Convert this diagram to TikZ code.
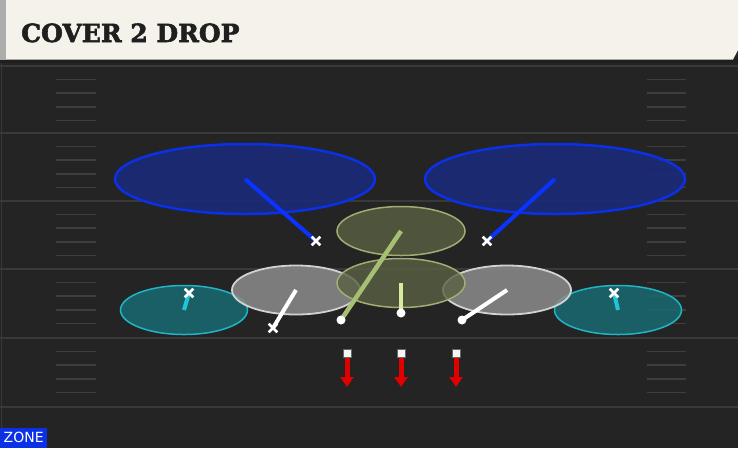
\documentclass[tikz,border=0pt]{standalone}
\usepackage{fontspec}
\usetikzlibrary{shapes.geometric,shapes.misc,arrows.meta}
\newfontfamily\titlefont{DejaVu Serif}[FakeBold=2.2]
\newfontfamily\zonefont{DejaVu Sans}
\definecolor{fieldbg}{HTML}{242424}
\definecolor{yardc}{HTML}{393939}
\definecolor{hashc}{HTML}{3E3E3E}
\definecolor{titlebg}{HTML}{F4F2EB}
\definecolor{blueb}{HTML}{0B30E6}
\definecolor{bluef}{HTML}{1B2A7A}
\definecolor{oliveb}{HTML}{9FAE72}
\definecolor{olivef}{HTML}{5A6143}
\definecolor{grayb}{HTML}{D2D2D2}
\definecolor{grayf}{HTML}{8C8C8C}
\definecolor{tealb}{HTML}{1FB5C5}
\definecolor{tealf}{HTML}{1A6A72}
\definecolor{blueline}{HTML}{0A33FF}
\definecolor{oliveline}{HTML}{A6BF72}
\definecolor{paleline}{HTML}{D6EAA0}
\definecolor{tealline}{HTML}{22C4D6}
\definecolor{redarr}{HTML}{E00000}
\definecolor{zonebox}{HTML}{0B30E6}
\tikzset{
  zone/.style={ellipse, inner sep=0pt, line width=#1},
  bluezone/.style={zone=2.5pt, draw=blueb, fill=bluef, fill opacity=0.9, minimum width=260pt, minimum height=70pt},
  olivezone/.style={zone=1.5pt, draw=oliveb, fill=olivef, fill opacity=0.8, minimum width=128pt, minimum height=49pt},
  grayzone/.style={zone=1.8pt, draw=grayb, fill=grayf, fill opacity=0.85, minimum width=128pt, minimum height=49pt},
  tealzone/.style={zone=1.5pt, draw=tealb, fill=tealf, fill opacity=0.85, minimum width=127pt, minimum height=49pt},
  route/.style={line width=4pt, line cap=butt},
  xmark/.style={cross out, draw=white, line width=2.6pt, minimum size=6pt, inner sep=0pt},
  dotmark/.style={circle, fill=white, minimum size=9pt, inner sep=0pt},
  sqmark/.style={rectangle, fill=white!92!gray, draw=black!60, line width=0.5pt, minimum size=8.5pt, inner sep=0pt},
  redarrow/.style={draw=redarr, line width=5pt, -{Triangle[width=13pt,length=10pt]}},
  yard/.style={draw=yardc, line width=1.5pt},
  hash/.style={draw=hashc, line width=1.5pt}
}
\begin{document}
\begin{tikzpicture}[x=1pt,y=-1pt]
\useasboundingbox (0,0) rectangle (738,448);
\fill[fieldbg] (0,0) rectangle (738,448);
\draw[draw=black!78!white, line width=1pt] (1,62) -- (1,448);
% yard lines and hash marks
\foreach \yy in {66,133,201,269,338,407} {\draw[yard] (0,\yy) -- (738,\yy);}
\foreach \yy in {66,133,201,269,338} {
  \foreach \k in {1,...,4} {
    \draw[hash] (56,{\yy+13.6*\k}) -- (96,{\yy+13.6*\k});
    \draw[hash] (647,{\yy+13.6*\k}) -- (686,{\yy+13.6*\k});
  }
}
% title bar
\fill[black!88] (0,59) rectangle (738,62.5);
\fill[titlebg] (0,0) -- (738,0) -- (738,50) -- (733,59.5) -- (0,59.5) -- cycle;
\fill[gray!65] (0,0) rectangle (5.5,59.5);
\node[anchor=base west, inner sep=0pt, text=black!88, font={\titlefont\bfseries\fontsize{25}{25}\selectfont}] (title) at (21,42) {COVER 2 DROP};
% zones
\node[bluezone] (zbl) at (245,179) {};
\node[bluezone] (zbr) at (555,179) {};
\node[tealzone] (ztl) at (184,310) {};
\node[tealzone] (ztr) at (618,310) {};
\node[olivezone] (zot) at (401,231) {};
\node[grayzone] (zgl) at (296,290) {};
\node[grayzone] (zgr) at (507,290) {};
\node[olivezone] (zom) at (401,283) {};
% players
\coordinate (pb1) at (316,241);
\coordinate (pb2) at (487,241);
\coordinate (pt1) at (189,293);
\coordinate (pt2) at (614,293);
\coordinate (pw1) at (273,328);
\coordinate (pw2) at (462,320);
\coordinate (po1) at (341,320);
\coordinate (po2) at (401,313);
% routes
\draw[route, blueline] (zbl.center) -- (pb1);
\draw[route, blueline] (zbr.center) -- (pb2);
\draw[route, tealline] (ztl.center) -- (pt1);
\draw[route, tealline] (ztr.center) -- (pt2);
\draw[route, white] (zgl.center) -- (pw1);
\draw[route, white] (zgr.center) -- (pw2);
\draw[route, oliveline, line width=4.5pt] (zot.center) -- (po1);
\draw[route, paleline] (zom.center) -- (po2);
% markers
\node[xmark] (mb1) at (pb1) {};
\node[xmark] (mb2) at (pb2) {};
\node[xmark] (mt1) at (pt1) {};
\node[xmark] (mt2) at (pt2) {};
\node[xmark] (mw1) at (pw1) {};
\node[dotmark] (mw2) at (pw2) {};
\node[dotmark] (mo1) at (po1) {};
\node[dotmark] (mo2) at (po2) {};
% offensive line
\node[sqmark] (s1) at (347,353) {};
\node[sqmark] (s2) at (401,353) {};
\node[sqmark] (s3) at (456,353) {};
\coordinate (e1) at (347,387);
\coordinate (e2) at (401,387);
\coordinate (e3) at (456,387);
\draw[redarrow] (s1.south) -- (e1);
\draw[redarrow] (s2.south) -- (e2);
\draw[redarrow] (s3.south) -- (e3);
% zone label
\node[anchor=south west, fill=zonebox, text=white, minimum width=47pt, minimum height=20pt, inner sep=0pt, font={\zonefont\fontsize{14}{14}\selectfont}] (zlab) at (0,448) {ZONE};
\end{tikzpicture}
\end{document}
